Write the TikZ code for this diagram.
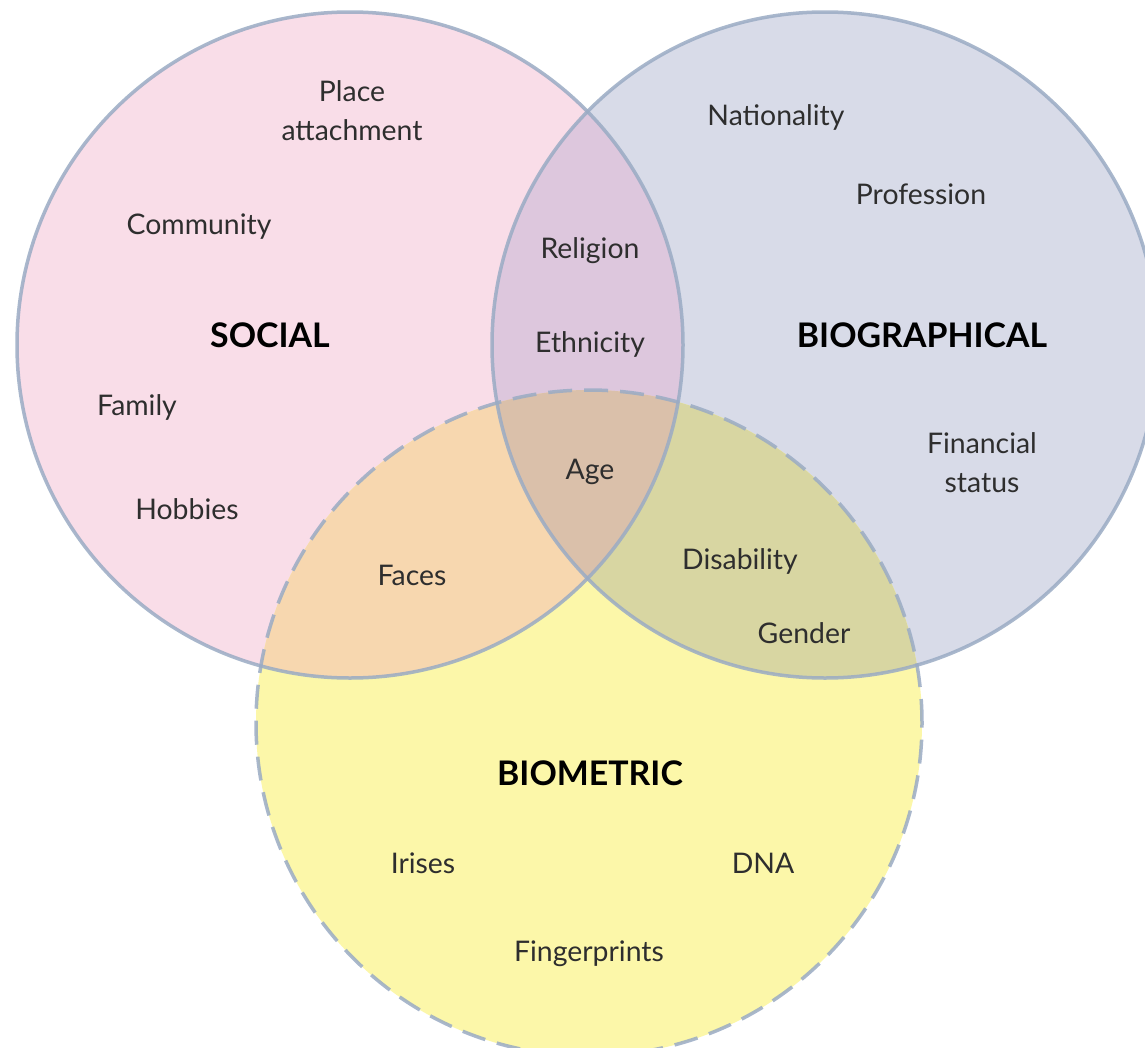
\documentclass[tikz,border=0pt]{standalone}
\usepackage{fontspec}
\setmainfont{Lato}
\usepackage{tikz}

\definecolor{SocPink}{HTML}{F9DDE8}
\definecolor{BioBlue}{HTML}{D8DBE8}
\definecolor{MetYellow}{HTML}{FCF7A9}
\definecolor{SocBio}{HTML}{DDC7DD}
\definecolor{SocMet}{HTML}{F7D7AF}
\definecolor{BioMet}{HTML}{D8D6A2}
\definecolor{AllThree}{HTML}{DAC0AA}
\definecolor{RimGrey}{HTML}{9AABC4}
\newcommand{\ringr}{333bp}

\begin{document}
\begin{tikzpicture}[
	label/.style={font=\fontsize{28.5}{39}\selectfont, text=black!82, align=center, inner sep=0pt},
	heading/.style={label, font=\fontsize{34}{39}\selectfont\bfseries, text=black},
	rim/.style={draw=RimGrey, draw opacity=0.85, line width=3.5bp}]
	\path[use as bounding box, fill=white] (0bp,0bp) rectangle (1145bp,-1048bp);

	\coordinate (soc) at (350bp,-345bp);
	\coordinate (bio) at (825bp,-345bp);
	\coordinate (met) at (589bp,-723bp);

	% discs and their overlaps
	\fill[SocPink]   (soc) circle (\ringr);
	\fill[BioBlue]   (bio) circle (\ringr);
	\fill[MetYellow] (met) circle (\ringr);
	\begin{scope}
		\clip (bio) circle (\ringr);
		\fill[BioMet] (met) circle (\ringr);
	\end{scope}
	\begin{scope}
		\clip (soc) circle (\ringr);
		\fill[SocBio] (bio) circle (\ringr);
		\fill[SocMet] (met) circle (\ringr);
		\clip (bio) circle (\ringr);
		\fill[AllThree] (met) circle (\ringr);
	\end{scope}

	\draw[rim] (soc) circle (\ringr);
	\draw[rim] (bio) circle (\ringr);
	\draw[rim, dash pattern=on 24bp off 12bp] (met) circle (\ringr);

	% social
	\node (place)     at (352bp,-111bp) [label]   {Place\\attachment};
	\node (community) at (199bp,-227bp) [label]   {Community};
	\node (social)    at (270bp,-335bp) [heading] {SOCIAL};
	\node (family)    at (137bp,-407bp) [label]   {Family};
	\node (hobbies)   at (187bp,-509bp) [label]   {Hobbies};

	% biographical
	\node (nation)    at (776bp,-117bp) [label]   {Nationality};
	\node (profess)   at (921bp,-194bp) [label]   {Profession};
	\node (biograph)  at (922bp,-335bp) [heading] {BIOGRAPHICAL};
	\node (finance)   at (982bp,-463bp) [label]   {Financial\\status};

	% biometric
	\node (biometric) at (590bp,-773bp) [heading] {BIOMETRIC};
	\node (irises)    at (423bp,-863bp) [label]   {Irises};
	\node (dna)       at (763bp,-863bp) [label]   {DNA};
	\node (finger)    at (589bp,-954bp) [label]   {Fingerprints};

	% overlaps
	\node (religion)  at (590bp,-251bp) [label]   {Religion};
	\node (ethnic)    at (590bp,-344bp) [label]   {Ethnicity};
	\node (age)       at (590bp,-472bp) [label]   {Age};
	\node (faces)     at (412bp,-575bp) [label]   {Faces};
	\node (disab)     at (740bp,-561bp) [label]   {Disability};
	\node (gender)    at (804bp,-633bp) [label]   {Gender};
\end{tikzpicture}
\end{document}
